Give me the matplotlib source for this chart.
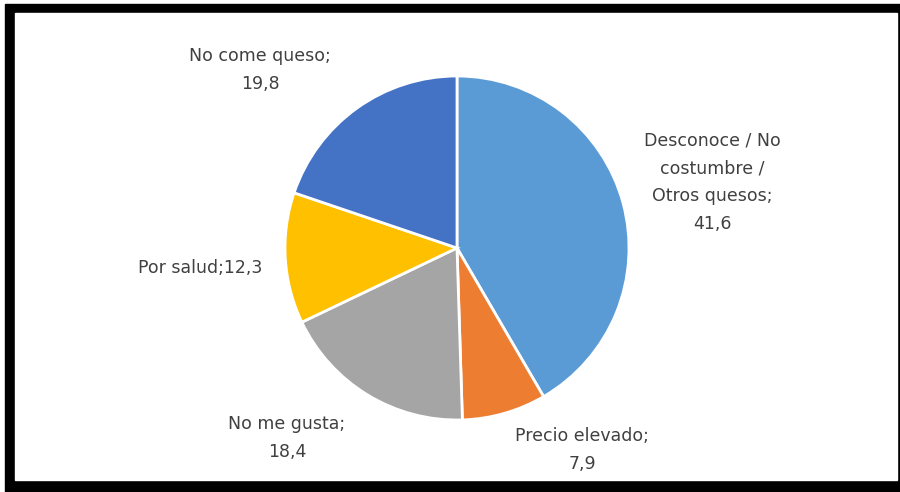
import matplotlib.pyplot as plt
from matplotlib.patches import Rectangle

# data
labels = ["Desconoce / No\ncostumbre /\nOtros quesos;\n41,6", "Precio elevado;\n7,9",
          "No me gusta;\n18,4", "Por salud;12,3", "No come queso;\n19,8"]
values = [41.6, 7.9, 18.4, 12.3, 19.8]
colors = ["#5B9BD5", "#ED7D31", "#A5A5A5", "#FFC000", "#4472C4"]

# label centres in pixel coords (x from left, y from top)
label_pos = [(712, 182), (582, 450), (287, 438), (200, 268), (260, 70)]

W, H = 900, 492
fig = plt.figure(figsize=(9, 4.92), dpi=100)
ax = fig.add_axes([0, 0, 1, 1])

# black frame
ax.add_patch(Rectangle((5, 0), W - 5, H - 4, color="black", zorder=0))
ax.add_patch(Rectangle((15, 12), 882, H - 25, color="white", zorder=0.5))

wedges, _ = ax.pie(values, colors=colors, startangle=90, counterclock=False,
                   center=(457, H - 248), radius=172, frame=True,
                   wedgeprops=dict(edgecolor="white", linewidth=2))
ax.set_xlim(0, W)
ax.set_ylim(0, H)
ax.set_aspect("equal")
ax.axis("off")

for lab, (x, y) in zip(labels, label_pos):
    ax.text(x, H - y, lab, ha="center", va="center", fontsize=12.5,
            color="#404040", linespacing=1.7, family="DejaVu Sans")

fig.savefig("out.png", dpi=100)
